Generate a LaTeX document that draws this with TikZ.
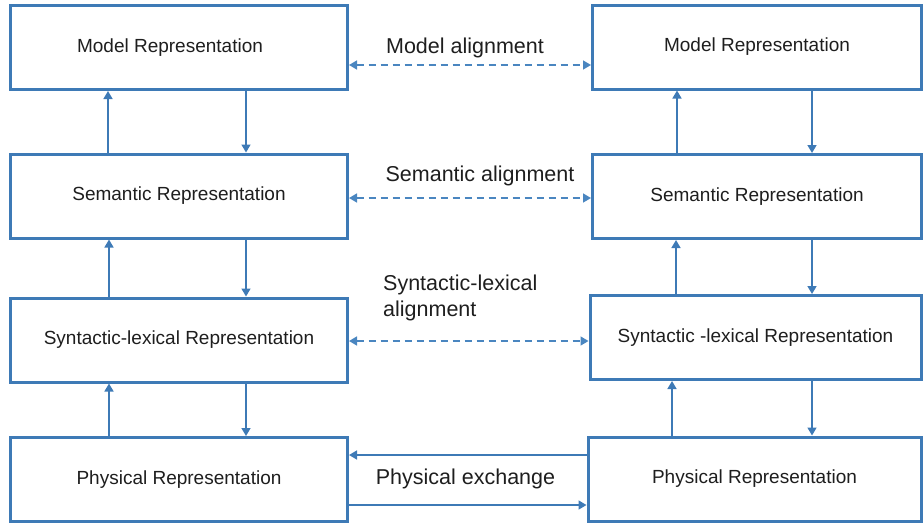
\documentclass[tikz,border=0pt]{standalone}
\usepackage{fontspec}
\setmainfont{Liberation Sans}
\usetikzlibrary{arrows.meta}
\definecolor{boxblue}{HTML}{3E7AB6}
\definecolor{dashblue}{HTML}{4A86C0}
\definecolor{txt}{HTML}{1E1E1E}
\begin{document}
\begin{tikzpicture}[x=1pt,y=-1pt,
  repbox/.style={draw=boxblue,line width=3pt,fill=white,minimum height=84pt,inner sep=0pt,font=\fontsize{19}{21}\selectfont,text=txt},
  lbox/.style={repbox,minimum width=337pt},
  rbox/.style={repbox,minimum width=329pt},
  arr/.style={draw=boxblue,line width=1.6pt,-{Triangle[width=9pt,length=8pt]}},
  dasharr/.style={draw=dashblue,line width=1.6pt,dash pattern=on 7pt off 5pt,{Triangle[width=9pt,length=8pt]}-{Triangle[width=9pt,length=8pt]}},
  lbl/.style={font=\fontsize{21.5}{26}\selectfont,text=txt,inner sep=0pt}]
\useasboundingbox (0,0) rectangle (923,525);
% left column
\node[lbox] (L1) at (179,47.5) {\raisebox{-1.5pt}{\hspace*{-18pt}Model Representation}};
\node[lbox] (L2) at (179,196) {\raisebox{-1.5pt}{Semantic Representation}};
\node[lbox] (L3) at (179,340) {\raisebox{-1.5pt}{Syntactic-lexical Representation}};
\node[lbox] (L4) at (179,479.5) {\raisebox{-1.5pt}{Physical Representation}};
% right column
\node[rbox] (R1) at (757,47) {\raisebox{-1.5pt}{Model Representation}};
\node[rbox] (R2) at (757,196.5) {\raisebox{-1.5pt}{Semantic Representation}};
\node[rbox,minimum width=331pt] (R3) at (755.5,337.5) {\raisebox{-1.5pt}{Syntactic -lexical Representation}};
\node[rbox,minimum width=333pt] (R4) at (754.5,479) {\raisebox{-1.5pt}{Physical Representation}};
% vertical arrows left
\draw[arr] ([xshift=-71pt]L2.north) -- ([xshift=-71pt]L1.south);
\draw[arr] ([xshift=67pt]L1.south) -- ([xshift=67pt]L2.north);
\draw[arr] ([xshift=-70pt]L3.north) -- ([xshift=-70pt]L2.south);
\draw[arr] ([xshift=67pt]L2.south) -- ([xshift=67pt]L3.north);
\draw[arr] ([xshift=-70pt]L4.north) -- ([xshift=-70pt]L3.south);
\draw[arr] ([xshift=67pt]L3.south) -- ([xshift=67pt]L4.north);
% vertical arrows right
\draw[arr] (R2.north -| 677,0) -- (R1.south -| 677,0);
\draw[arr] (R1.south -| 812,0) -- (R2.north -| 812,0);
\draw[arr] (R3.north -| 676,0) -- (R2.south -| 676,0);
\draw[arr] (R2.south -| 812,0) -- (R3.north -| 812,0);
\draw[arr] (R4.north -| 672,0) -- (R3.south -| 672,0);
\draw[arr] (R3.south -| 812,0) -- (R4.north -| 812,0);
% alignments
\coordinate (ma) at (0,65);
\coordinate (sa) at (0,198);
\coordinate (sx) at (0,341);
\coordinate (pt) at (0,455);
\coordinate (pb) at (0,505);
\draw[dasharr] (L1.east |- ma) -- (R1.west |- ma);
\draw[dasharr] (L2.east |- sa) -- (R2.west |- sa);
\draw[dasharr] (L3.east |- sx) -- (R3.west |- sx);
\draw[arr] (R4.west |- pt) -- (L4.east |- pt);
\draw[arr] (L4.east |- pb) -- (R4.west |- pb);
% labels
\node[lbl] (t1) at (465,48) {Model alignment};
\node[lbl] (t2) at (480,176) {Semantic alignment};
\node[lbl,anchor=west,align=left] (t3) at (383,297.5) {Syntactic-lexical\\alignment};
\node[lbl] (t4) at (465.5,479) {Physical exchange};
\end{tikzpicture}
\end{document}
